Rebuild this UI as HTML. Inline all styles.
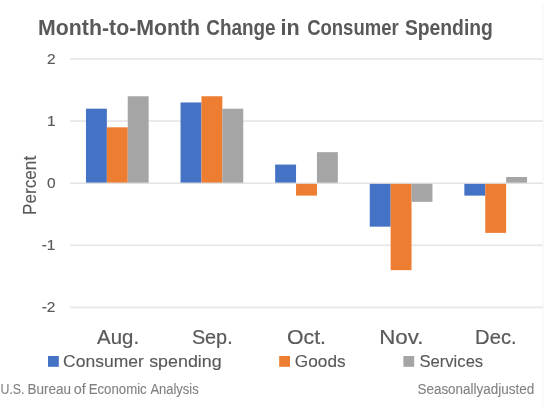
<!DOCTYPE html>
<html><head><meta charset="utf-8"><style>
html,body{margin:0;padding:0;background:#fff;}
body{width:546px;height:409px;overflow:hidden;position:relative;}
svg{position:absolute;left:0;top:0;will-change:transform;font-family:"Liberation Sans",sans-serif;}
</style></head><body>
<svg width="546" height="409" viewBox="0 0 546 409">
<rect x="542.5" y="3" width="1" height="404" fill="#F6F6F6"/>
<rect x="70.0" y="58.10" width="473.0" height="1.8" fill="#E8E8E8"/>
<rect x="70.0" y="120.20" width="473.0" height="1.8" fill="#E8E8E8"/>
<rect x="70.0" y="244.40" width="473.0" height="1.8" fill="#E8E8E8"/>
<rect x="70.0" y="306.50" width="473.0" height="1.8" fill="#E8E8E8"/>
<rect x="85.95" y="108.68" width="20.9" height="74.52" fill="#4472C4"/>
<rect x="106.85" y="127.31" width="20.9" height="55.89" fill="#ED7D31"/>
<rect x="127.75" y="96.26" width="20.9" height="86.94" fill="#A5A5A5"/>
<rect x="180.55" y="102.47" width="20.9" height="80.73" fill="#4472C4"/>
<rect x="201.45" y="96.26" width="20.9" height="86.94" fill="#ED7D31"/>
<rect x="222.35" y="108.68" width="20.9" height="74.52" fill="#A5A5A5"/>
<rect x="275.15" y="164.57" width="20.9" height="18.63" fill="#4472C4"/>
<rect x="296.05" y="183.20" width="20.9" height="12.42" fill="#ED7D31"/>
<rect x="316.95" y="152.15" width="20.9" height="31.05" fill="#A5A5A5"/>
<rect x="369.75" y="183.20" width="20.9" height="43.47" fill="#4472C4"/>
<rect x="390.65" y="183.20" width="20.9" height="86.94" fill="#ED7D31"/>
<rect x="411.55" y="183.20" width="20.9" height="18.63" fill="#A5A5A5"/>
<rect x="464.35" y="183.20" width="20.9" height="12.42" fill="#4472C4"/>
<rect x="485.25" y="183.20" width="20.9" height="49.68" fill="#ED7D31"/>
<rect x="506.15" y="176.99" width="20.9" height="6.21" fill="#A5A5A5"/>
<rect x="70.0" y="182.55" width="473.0" height="1.3" fill="#E0E0E0"/>
<text x="55.5" y="64.00" text-anchor="end" font-size="15.5" fill="#595959" stroke="#595959" stroke-width="0.15">2</text>
<text x="55.5" y="126.10" text-anchor="end" font-size="15.5" fill="#595959" stroke="#595959" stroke-width="0.15">1</text>
<text x="55.5" y="188.20" text-anchor="end" font-size="15.5" fill="#595959" stroke="#595959" stroke-width="0.15">0</text>
<text x="55.5" y="250.30" text-anchor="end" font-size="15.5" fill="#595959" stroke="#595959" stroke-width="0.15">-1</text>
<text x="55.5" y="312.40" text-anchor="end" font-size="15.5" fill="#595959" stroke="#595959" stroke-width="0.15">-2</text>
<text x="38.10" y="34.9" font-size="21.2" font-weight="bold" fill="#595959" textLength="162.0" lengthAdjust="spacingAndGlyphs">Month-to-Month</text>
<text x="206.35" y="34.9" font-size="21.2" font-weight="bold" fill="#595959" textLength="69.25" lengthAdjust="spacingAndGlyphs">Change</text>
<text x="280.40" y="34.9" font-size="21.2" font-weight="bold" fill="#595959" textLength="19.25" lengthAdjust="spacingAndGlyphs">in</text>
<text x="307.15" y="34.9" font-size="21.2" font-weight="bold" fill="#595959" textLength="91.5" lengthAdjust="spacingAndGlyphs">Consumer</text>
<text x="404.90" y="34.9" font-size="21.2" font-weight="bold" fill="#595959" textLength="88.0" lengthAdjust="spacingAndGlyphs">Spending</text>
<text x="97.10" y="343.8" font-size="21" fill="#595959" stroke="#595959" stroke-width="0.2" textLength="42.0" lengthAdjust="spacingAndGlyphs">Aug.</text>
<text x="191.90" y="343.8" font-size="21" fill="#595959" stroke="#595959" stroke-width="0.2" textLength="40.75" lengthAdjust="spacingAndGlyphs">Sep.</text>
<text x="287.00" y="343.8" font-size="21" fill="#595959" stroke="#595959" stroke-width="0.2" textLength="39.0" lengthAdjust="spacingAndGlyphs">Oct.</text>
<text x="379.25" y="343.8" font-size="21" fill="#595959" stroke="#595959" stroke-width="0.2" textLength="44.25" lengthAdjust="spacingAndGlyphs">Nov.</text>
<text x="475.10" y="343.8" font-size="21" fill="#595959" stroke="#595959" stroke-width="0.2" textLength="41.5" lengthAdjust="spacingAndGlyphs">Dec.</text>
<g transform="translate(36.2,215.05) rotate(-90)"><text x="0" y="0" font-size="18.5" fill="#595959" stroke="#595959" stroke-width="0.15" textLength="59.25" lengthAdjust="spacingAndGlyphs">Percent</text></g>
<text x="63.05" y="366.8" font-size="17" fill="#595959" stroke="#595959" stroke-width="0.12" textLength="80.75" lengthAdjust="spacingAndGlyphs">Consumer</text>
<text x="149.20" y="366.8" font-size="17" fill="#595959" stroke="#595959" stroke-width="0.12" textLength="72.5" lengthAdjust="spacingAndGlyphs">spending</text>
<text x="294.85" y="366.8" font-size="17" fill="#595959" stroke="#595959" stroke-width="0.12" textLength="50.75" lengthAdjust="spacingAndGlyphs">Goods</text>
<text x="419.45" y="366.8" font-size="17" fill="#595959" stroke="#595959" stroke-width="0.12" textLength="63.75" lengthAdjust="spacingAndGlyphs">Services</text>
<rect x="48" y="356" width="10.8" height="10.8" fill="#4472C4"/>
<rect x="279.2" y="356" width="10.8" height="10.8" fill="#ED7D31"/>
<rect x="403.4" y="356" width="10.8" height="10.8" fill="#A5A5A5"/>
<text x="0.50" y="394.1" font-size="14" fill="#808080" stroke="#808080" stroke-width="0.1" textLength="24.0" lengthAdjust="spacingAndGlyphs">U.S.</text>
<text x="27.40" y="394.1" font-size="14" fill="#808080" stroke="#808080" stroke-width="0.1" textLength="43.5" lengthAdjust="spacingAndGlyphs">Bureau</text>
<text x="73.70" y="394.1" font-size="14" fill="#808080" stroke="#808080" stroke-width="0.1" textLength="12.0" lengthAdjust="spacingAndGlyphs">of</text>
<text x="88.70" y="394.1" font-size="14" fill="#808080" stroke="#808080" stroke-width="0.1" textLength="58.0" lengthAdjust="spacingAndGlyphs">Economic</text>
<text x="150.40" y="394.1" font-size="14" fill="#808080" stroke="#808080" stroke-width="0.1" textLength="48.25" lengthAdjust="spacingAndGlyphs">Analysis</text>
<text x="417.45" y="394.1" font-size="14" fill="#808080" stroke="#808080" stroke-width="0.1" textLength="116.75" lengthAdjust="spacingAndGlyphs">Seasonallyadjusted</text>
</svg>
</body></html>
